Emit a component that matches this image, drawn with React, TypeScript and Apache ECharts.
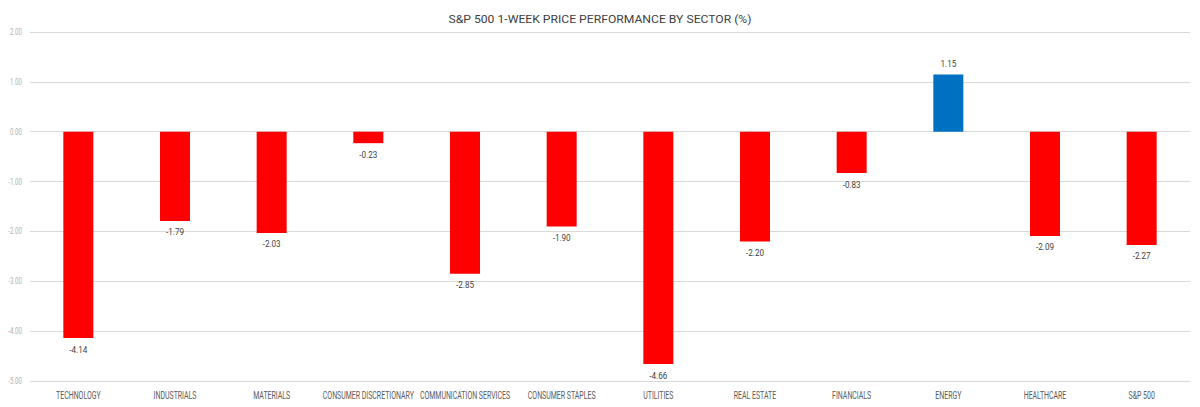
import React, { useEffect, useRef } from "react";
import * as echarts from "echarts";

const categories = [
  "TECHNOLOGY",
  "INDUSTRIALS",
  "MATERIALS",
  "CONSUMER DISCRETIONARY",
  "COMMUNICATION SERVICES",
  "CONSUMER STAPLES",
  "UTILITIES",
  "REAL ESTATE",
  "FINANCIALS",
  "ENERGY",
  "HEALTHCARE",
  "S&P 500",
];
const values = [-4.14, -1.79, -2.03, -0.23, -2.85, -1.9, -4.66, -2.2, -0.83, 1.15, -2.09, -2.27];
const title = "S&P 500 1-WEEK PRICE PERFORMANCE BY SECTOR (%)";
const yTicks = [-5, -4, -3, -2, -1, 0, 1, 2];

const FONT = "Roboto, 'DejaVu Sans', sans-serif";

// narrow the rendered texts to imitate the condensed face of the reference
function condense(root: HTMLElement | null) {
  if (!root) return;
  const texts = Array.from(root.querySelectorAll("text")) as SVGTextContentElement[];
  const find = (s: string) => texts.find((t) => t.textContent === s);
  const ref = (s: string, w: number) => {
    const t = find(s);
    if (!t) return 1;
    const l = t.getComputedTextLength();
    return l > 0 ? w / l : 1;
  };
  const xF = ref("CONSUMER DISCRETIONARY", 91);
  const yF = ref("2.00", 12);
  const dF = ref("-4.14", 18);
  const yLabels = yTicks.map((v) => v.toFixed(2));
  const dLabels = values.map((v) => v.toFixed(2));
  texts.forEach((t) => {
    if (t.getAttribute("data-cond")) return;
    const s = t.textContent || "";
    const l = t.getComputedTextLength();
    if (!(l > 0)) return;
    let target = 0;
    if (s === title) target = 303;
    else if (categories.includes(s)) target = l * xF;
    else if (yLabels.includes(s)) target = l * yF;
    else if (dLabels.includes(s)) target = l * dF;
    if (target > 0) {
      t.setAttribute("textLength", String(target));
      t.setAttribute("lengthAdjust", "spacingAndGlyphs");
      t.setAttribute("data-cond", "1");
    }
  });
}

export default function App() {
  const ref = useRef<HTMLDivElement>(null);
  useEffect(() => {
    if (!ref.current) return;
    const chart = echarts.init(ref.current, null, { renderer: "svg" });
    chart.on("finished", () => condense(ref.current));
    chart.setOption({
      animation: false,
      backgroundColor: "#ffffff",
      title: {
        text: title,
        left: "center",
        top: 8,
        textStyle: { fontFamily: FONT, fontSize: 11.5, fontWeight: "normal", color: "#404040" },
      },
      grid: { left: 30, right: 10, top: 32, bottom: 26, containLabel: false },
      xAxis: {
        type: "category",
        data: categories,
        axisLine: { show: false },
        axisTick: { show: false },
        axisLabel: { interval: 0, margin: 9, fontFamily: FONT, fontSize: 10, color: "#595959" },
      },
      yAxis: {
        type: "value",
        min: -5,
        max: 2,
        interval: 1,
        axisLine: { show: false },
        axisTick: { show: false },
        splitLine: { lineStyle: { color: "#d9d9d9", width: 1 } },
        axisLabel: {
          margin: 8,
          fontFamily: FONT,
          fontSize: 8.5,
          color: "#b0b0b0",
          formatter: (v: number) => v.toFixed(2),
        },
      },
      series: [
        {
          type: "bar",
          barWidth: 30,
          data: values.map((v) => ({
            value: v,
            itemStyle: { color: v >= 0 ? "#0070C0" : "#FF0000" },
            label: { position: v >= 0 ? "top" : "bottom" },
          })),
          label: {
            show: true,
            distance: 6,
            fontFamily: FONT,
            fontSize: 9.5,
            color: "#404040",
            formatter: (p: any) => Number(p.value).toFixed(2),
          },
        },
      ],
    });
    chart.getZr().flush();
    condense(ref.current);
    const timer = setTimeout(() => condense(ref.current), 50);
    return () => {
      clearTimeout(timer);
      chart.dispose();
    };
  }, []);
  return (
    <div
      ref={ref}
      style={{ position: "fixed", left: 0, top: 0, width: 1200, height: 407 }}
    />
  );
}
